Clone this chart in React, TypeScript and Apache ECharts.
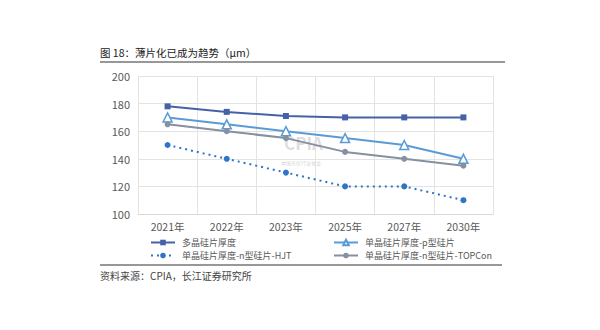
import React, { useEffect, useRef } from "react";
import * as echarts from "echarts";

const categories = ["2021年", "2022年", "2023年", "2025年", "2027年", "2030年"];
const polySi = [178, 174, 171, 170, 170, 170];
const monoP = [170, 165, 160, 155, 150, 140];
const monoHJT = [150, 140, 130, 120, 120, 110];
const monoTOPCon = [165, 160, 155, 145, 140, 135];
const seriesNames = ["多晶硅片厚度", "单晶硅片厚度-p型硅片", "单晶硅片厚度-n型硅片-HJT", "单晶硅片厚度-n型硅片-TOPCon"];

const FONT = "'Noto Sans CJK SC', 'Noto Sans', sans-serif";

export default function App() {
  const ref = useRef<HTMLDivElement>(null);
  useEffect(() => {
    const chart = echarts.init(ref.current!, null, { renderer: "svg" });
    const legendPos = [
      { left: 150, top: 238 },
      { left: 333, top: 238 },
      { left: 150, top: 251 },
      { left: 333, top: 251 },
    ];
    chart.setOption({
      animation: false,
      backgroundColor: "#fff",
      textStyle: { fontFamily: FONT },
      grid: { left: 138, right: 107, top: 76, bottom: 116, containLabel: false },
      legend: seriesNames.map((n, i) => ({
        data: [n],
        left: legendPos[i].left,
        top: legendPos[i].top,
        itemWidth: 24,
        itemHeight: 7,
        itemGap: 4,
        textStyle: { fontSize: 9, color: "#595959", fontFamily: FONT, padding: [0, 0, 0, 2] },
        padding: 0,
      })),
      graphic: [
        { type: "text", left: 100, top: 47, style: { text: "图 18：薄片化已成为趋势（μm）", fontSize: 10.5, fill: "#222", fontFamily: FONT } },
        { type: "line", shape: { x1: 100, y1: 62, x2: 505, y2: 62 }, style: { stroke: "#333", lineWidth: 1.2 } },
        { type: "line", shape: { x1: 100, y1: 265, x2: 502, y2: 265 }, style: { stroke: "#333", lineWidth: 1.2 } },
        { type: "text", left: 100, top: 270, style: { text: "资料来源：CPIA，长江证券研究所", fontSize: 10, fill: "#444", fontFamily: FONT } },
        { type: "text", left: 284, top: 134, style: { text: "CPIA", fontSize: 17, fontWeight: "bold", fill: "rgba(160,160,160,0.35)", fontFamily: FONT } },
        { type: "text", left: 281, top: 160, style: { text: "中国光伏行业协会", fontSize: 5, fill: "rgba(140,140,140,0.45)", fontFamily: FONT } },
      ],
      xAxis: {
        type: "category",
        data: categories,
        boundaryGap: true,
        axisLine: { lineStyle: { color: "#D9D9D9" } },
        axisTick: { show: false },
        splitLine: { show: true, lineStyle: { color: "#E3E3E3" } },
        axisLabel: { color: "#595959", fontSize: 10.5, margin: 7, fontFamily: FONT },
      },
      yAxis: {
        type: "value",
        min: 100,
        max: 200,
        interval: 20,
        axisLine: { show: false },
        axisTick: { show: false },
        splitLine: { lineStyle: { color: "#E3E3E3" } },
        axisLabel: { color: "#595959", fontSize: 11, margin: 8, fontFamily: FONT },
      },
      series: [
        {
          name: seriesNames[0], type: "line", data: polySi,
          symbol: "rect", symbolSize: 6,
          lineStyle: { color: "#4562A8", width: 2 },
          itemStyle: { color: "#4562A8" },
        },
        {
          name: seriesNames[1], type: "line", data: monoP,
          symbol: "triangle", symbolSize: 9,
          lineStyle: { color: "#5B9BD5", width: 2 },
          itemStyle: { color: "#fff", borderColor: "#5B9BD5", borderWidth: 1.5 },
        },
        {
          name: seriesNames[2], type: "line", data: monoHJT,
          symbol: "circle", symbolSize: 6,
          lineStyle: { color: "#2E75C8", width: 2, type: [2, 4] },
          itemStyle: { color: "#2E75C8" },
        },
        {
          name: seriesNames[3], type: "line", data: monoTOPCon,
          symbol: "circle", symbolSize: 6,
          lineStyle: { color: "#8690A0", width: 2 },
          itemStyle: { color: "#8690A0" },
        },
      ],
    });
    return () => chart.dispose();
  }, []);
  return <div ref={ref} style={{ position: "fixed", left: 0, top: 0, width: 600, height: 330 }} />;
}
